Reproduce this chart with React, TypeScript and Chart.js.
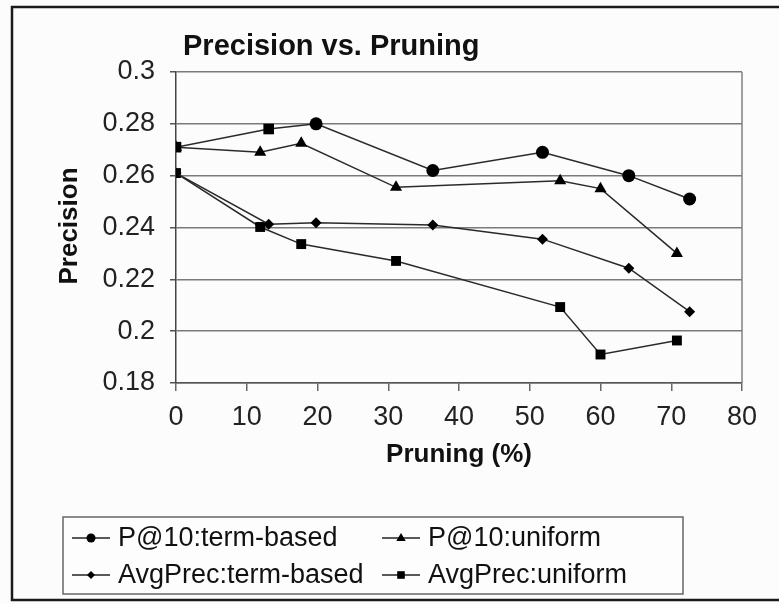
import React, { useEffect, useRef } from "react";
import { Chart, registerables } from "chart.js";

Chart.register(...registerables);

// ---- data ----
const seriesNames = [
  "P@10:term-based",
  "P@10:uniform",
  "AvgPrec:term-based",
  "AvgPrec:uniform",
];
const pruningTerm = [0, 13.1, 19.8, 36.3, 51.8, 64.0, 72.6];
const pruningUniform = [0, 11.9, 17.7, 31.1, 54.3, 60.0, 70.8];
const p10Term = [0.271, 0.278, 0.28, 0.262, 0.269, 0.26, 0.251];
const p10Uniform = [0.271, 0.269, 0.2725, 0.2555, 0.258, 0.255, 0.23];
const avgTerm = [0.261, 0.2413, 0.2418, 0.241, 0.2355, 0.2243, 0.2075];
const avgUniform = [0.261, 0.2402, 0.2336, 0.2271, 0.2093, 0.191, 0.1964];
const xTickValues = [0, 10, 20, 30, 40, 50, 60, 70, 80];
const yTickValues = [0.18, 0.2, 0.22, 0.24, 0.26, 0.28, 0.3];
const chartTitle = "Precision vs. Pruning";
const xTitle = "Pruning (%)";
const yTitle = "Precision";

const FONT = '"Liberation Sans", Arial, sans-serif';

function pts(xs: number[], ys: number[]) {
  return xs.map((x, i) => ({ x, y: ys[i] }));
}

function drawMarker(ctx: CanvasRenderingContext2D, style: string, x: number, y: number, r: number) {
  ctx.beginPath();
  if (style === "circle") {
    ctx.arc(x, y, r, 0, Math.PI * 2);
  } else if (style === "triangle") {
    ctx.moveTo(x, y - r);
    ctx.lineTo(x + r * 0.95, y + r * 0.6);
    ctx.lineTo(x - r * 0.95, y + r * 0.6);
    ctx.closePath();
  } else if (style === "rectRot") {
    ctx.moveTo(x, y - r);
    ctx.lineTo(x + r, y);
    ctx.lineTo(x, y + r);
    ctx.lineTo(x - r, y);
    ctx.closePath();
  } else {
    ctx.rect(x - r, y - r, 2 * r, 2 * r);
  }
  ctx.fill();
}

const decorPlugin = {
  id: "decor",
  beforeDraw(chart: any) {
    const ctx = chart.ctx as CanvasRenderingContext2D;
    ctx.save();
    ctx.fillStyle = "#fcfcfc";
    ctx.fillRect(0, 0, chart.width, chart.height);
    ctx.restore();
  },
  afterDraw(chart: any) {
    const ctx = chart.ctx as CanvasRenderingContext2D;
    const a = chart.chartArea;
    ctx.save();
    // plot-area border (right side)
    ctx.strokeStyle = "#808080";
    ctx.lineWidth = 1.5;
    ctx.beginPath();
    ctx.moveTo(a.right, a.top);
    ctx.lineTo(a.right, a.bottom);
    ctx.stroke();

    // outer chart border
    ctx.strokeStyle = "#1a1a1a";
    ctx.lineWidth = 2.5;
    ctx.beginPath();
    ctx.moveTo(chart.width, 7);
    ctx.lineTo(12, 7);
    ctx.lineTo(12, 600);
    ctx.lineTo(chart.width, 600);
    ctx.stroke();

    // title
    ctx.fillStyle = "#111";
    ctx.font = `bold 29px ${FONT}`;
    ctx.textAlign = "left";
    ctx.textBaseline = "alphabetic";
    ctx.fillText(chartTitle, 183, 55);

    // axis titles
    ctx.font = `bold 26px ${FONT}`;
    ctx.textAlign = "center";
    ctx.textBaseline = "middle";
    ctx.fillText(xTitle, (a.left + a.right) / 2, 455);
    ctx.save();
    ctx.translate(70, 226);
    ctx.rotate(-Math.PI / 2);
    ctx.fillText(yTitle, 0, 0);
    ctx.restore();

    // legend box
    ctx.fillStyle = "#fdfdfd";
    ctx.fillRect(63, 517, 620, 77);
    ctx.strokeStyle = "#666";
    ctx.lineWidth = 1.5;
    ctx.strokeRect(63, 517, 620, 77);

    const cols = [72, 382];
    const rows = [538, 575];
    const styles = ["circle", "triangle", "rectRot", "rect"];
    const sizes = [4.5, 5, 4, 3.8];
    chart.data.datasets.forEach((ds: any, i: number) => {
      const lx = cols[i % 2];
      const ly = rows[Math.floor(i / 2)];
      ctx.strokeStyle = "#222";
      ctx.lineWidth = 1.5;
      ctx.beginPath();
      ctx.moveTo(lx, ly);
      ctx.lineTo(lx + 38, ly);
      ctx.stroke();
      ctx.fillStyle = "#000";
      drawMarker(ctx, styles[i], lx + 19, ly, sizes[i]);
      ctx.fillStyle = "#111";
      ctx.font = `27px ${FONT}`;
      ctx.textAlign = "left";
      ctx.textBaseline = "middle";
      ctx.fillText(ds.label, lx + 46, ly + 1);
    });
    ctx.restore();
  },
};

export default function App() {
  const ref = useRef<HTMLCanvasElement | null>(null);

  useEffect(() => {
    if (!ref.current) return;
    const common = {
      showLine: true,
      borderColor: "#2a2a2a",
      borderWidth: 1.5,
      pointBackgroundColor: "#000",
      pointBorderColor: "#000",
      pointBorderWidth: 0,
    };
    const chart = new Chart(ref.current, {
      type: "scatter",
      data: {
        datasets: [
          {
            ...common,
            label: seriesNames[0],
            data: pts(pruningTerm, p10Term),
            pointStyle: ["rect", "rect", "circle", "circle", "circle", "circle", "circle"],
            pointRadius: [7.5, 7.5, 6.5, 6.5, 6.5, 6.5, 6.5],
          },
          {
            ...common,
            label: seriesNames[1],
            data: pts(pruningUniform, p10Uniform),
            pointStyle: "triangle",
            pointRadius: 7,
          },
          {
            ...common,
            label: seriesNames[2],
            data: pts(pruningTerm, avgTerm),
            pointStyle: "rectRot",
            pointRadius: 5.5,
          },
          {
            ...common,
            label: seriesNames[3],
            data: pts(pruningUniform, avgUniform),
            pointStyle: "rect",
            pointRadius: 7,
          },
        ],
      },
      options: {
        responsive: false,
        animation: false,
        events: [],
        layout: { padding: { left: 0, top: 72, right: 37, bottom: 0 } },
        plugins: {
          legend: { display: false },
          title: { display: false },
          tooltip: { enabled: false },
        },
        scales: {
          x: {
            type: "linear",
            min: 0,
            max: 80,
            afterBuildTicks: (s: any) => {
              s.ticks = xTickValues.map((v) => ({ value: v }));
            },
            afterFit: (s: any) => {
              s.height = 221;
            },
            grid: {
              drawOnChartArea: false,
              drawTicks: true,
              tickLength: 8,
              tickColor: "#666",
              lineWidth: 1.5,
            },
            border: { display: true, color: "#555", width: 1.5 },
            ticks: {
              color: "#222",
              padding: 10,
              maxRotation: 0,
              autoSkip: false,
              font: { family: FONT, size: 27 },
            },
          },
          y: {
            type: "linear",
            min: 0.18,
            max: 0.3,
            afterBuildTicks: (s: any) => {
              s.ticks = yTickValues.map((v) => ({ value: v }));
            },
            afterFit: (s: any) => {
              s.width = 176;
            },
            grid: {
              color: "#7a7a7a",
              lineWidth: 1.5,
              drawTicks: true,
              tickLength: 6,
              tickColor: "#555",
            },
            border: { display: true, color: "#444", width: 1.5 },
            ticks: {
              color: "#222",
              padding: 15,
              autoSkip: false,
              font: { family: FONT, size: 27 },
              callback: (v: any) => String(Number(Number(v).toFixed(2))),
            },
          },
        },
      },
      plugins: [decorPlugin],
    } as any);
    return () => chart.destroy();
  }, []);

  return (
    <div style={{ position: "absolute", left: 0, top: 0, width: 779, height: 604 }}>
      <canvas ref={ref} width={779} height={604} style={{ width: 779, height: 604, display: "block" }} />
    </div>
  );
}
